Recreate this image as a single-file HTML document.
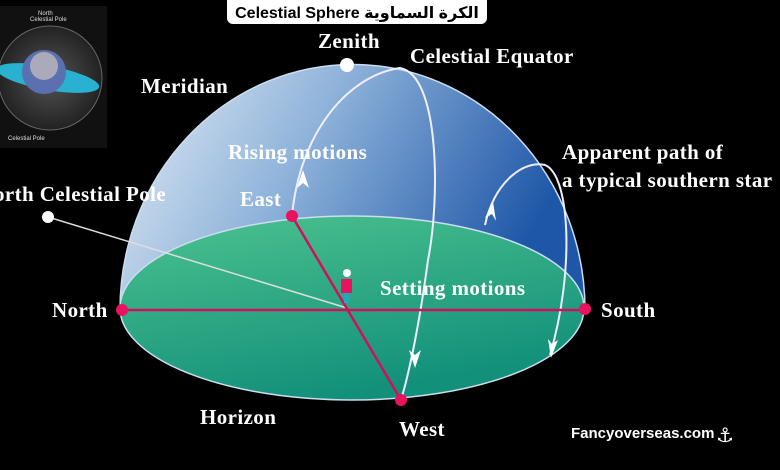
<!DOCTYPE html>
<html><head><meta charset="utf-8"><style>
html,body{margin:0;padding:0;background:#000;}
svg{display:block}
.lab{font-family:"Liberation Serif",serif;font-weight:bold;fill:#fff;font-size:21px;letter-spacing:0.4px;}
</style></head><body>
<svg width="780" height="470" viewBox="0 0 780 470" xmlns="http://www.w3.org/2000/svg">
<defs>
<linearGradient id="dome" x1="0" y1="0" x2="1" y2="0.3">
<stop offset="0" stop-color="#e6eef6"/>
<stop offset="0.45" stop-color="#8fb3da"/>
<stop offset="1" stop-color="#1f57a8"/>
</linearGradient>
<linearGradient id="hor" x1="0" y1="0" x2="0.4" y2="1">
<stop offset="0" stop-color="#4cc38f"/>
<stop offset="1" stop-color="#13907a"/>
</linearGradient>
<radialGradient id="inset" cx="0.5" cy="0.5" r="0.5">
<stop offset="0" stop-color="#555"/><stop offset="1" stop-color="#222"/>
</radialGradient>
</defs>
<rect width="780" height="470" fill="#000"/>
<rect x="0" y="6" width="107" height="142" fill="#111"/>
<circle cx="50" cy="78" r="52" fill="url(#inset)" stroke="#666"/>
<ellipse cx="48" cy="78" rx="52" ry="12" fill="#2ab0d0" transform="rotate(10 48 78)"/>
<circle cx="44" cy="72" r="22" fill="#5a70b0"/>
<circle cx="44" cy="66" r="14" fill="#aab"/>
<text x="38" y="15" font-family="Liberation Sans" font-size="6" fill="#ddd">North</text>
<text x="30" y="21" font-family="Liberation Sans" font-size="6" fill="#ddd">Celestial Pole</text>
<text x="8" y="140" font-family="Liberation Sans" font-size="6" fill="#ddd">Celestial Pole</text>
<rect x="227" y="-6" width="260" height="30" rx="6" fill="#fff"/>
<text x="357" y="18" text-anchor="middle" font-family="Liberation Sans, DejaVu Sans, sans-serif" font-weight="bold" font-size="16" fill="#000">Celestial Sphere الكرة السماوية</text>
<path d="M120 310 A232 245 0 0 1 585 310 Z" fill="url(#dome)"/>
<ellipse cx="352" cy="308" rx="232" ry="92" fill="url(#hor)" stroke="#cde" stroke-width="1.5"/>
<path d="M120 310 A232 245 0 0 1 585 310" fill="none" stroke="#cde" stroke-width="1.5"/>
<path d="M292 216 C300 130 350 75 400 68 C440 75 440 200 428 260 C420 320 410 370 401 400" fill="none" stroke="#eef" stroke-width="2"/>
<path d="M303 170 l-6 18 l6 -5 l6 5 z" fill="#fff"/>
<path d="M415 368 l-6 -18 l6 5 l6 -5 z" fill="#fff"/>
<path d="M485 225 C495 180 525 160 545 165 C570 175 575 270 550 355" fill="none" stroke="#eef" stroke-width="2"/>
<path d="M493 202 l-8 16 l7 -4 l4 7 z" fill="#fff"/>
<path d="M551 358 l-3 -19 l4 5 l6 -4 z" fill="#fff"/>
<line x1="48" y1="217" x2="347" y2="308" stroke="#ddd" stroke-width="1.5"/>
<line x1="122" y1="310" x2="585" y2="310" stroke="#d0105a" stroke-width="2.5"/>
<line x1="292" y1="216" x2="401" y2="400" stroke="#d0105a" stroke-width="2.5"/>
<circle cx="122" cy="310" r="6" fill="#e8125e"/>
<circle cx="585" cy="309" r="6" fill="#e8125e"/>
<circle cx="292" cy="216" r="6" fill="#e8125e"/>
<circle cx="401" cy="400" r="6" fill="#e8125e"/>
<circle cx="347" cy="65" r="7" fill="#fff"/>
<circle cx="48" cy="217" r="6" fill="#fff"/>
<circle cx="347" cy="273" r="4" fill="#fff"/>
<rect x="341" y="279" width="11" height="14" fill="#e8125e"/>
<rect x="344" y="293" width="5" height="10" fill="#2ab"/>
<text class="lab" x="318" y="48">Zenith</text>
<text class="lab" x="410" y="63">Celestial Equator</text>
<text class="lab" x="141" y="93">Meridian</text>
<text class="lab" x="228" y="159">Rising motions</text>
<text class="lab" x="562" y="159">Apparent path of</text>
<text class="lab" x="562" y="187">a typical southern star</text>
<text class="lab" x="-6" y="201">orth Celestial Pole</text>
<text class="lab" x="240" y="206">East</text>
<text class="lab" x="380" y="295">Setting motions</text>
<text class="lab" x="52" y="317">North</text>
<text class="lab" x="601" y="317">South</text>
<text class="lab" x="200" y="424">Horizon</text>
<text class="lab" x="399" y="436">West</text>
<text x="571" y="438" font-family="Liberation Sans, sans-serif" font-weight="bold" font-size="15" fill="#fff">Fancyoverseas.com</text>
<text x="716" y="442" font-family="DejaVu Sans, sans-serif" font-size="20" fill="#fff">⚓</text>
</svg>
</body></html>
